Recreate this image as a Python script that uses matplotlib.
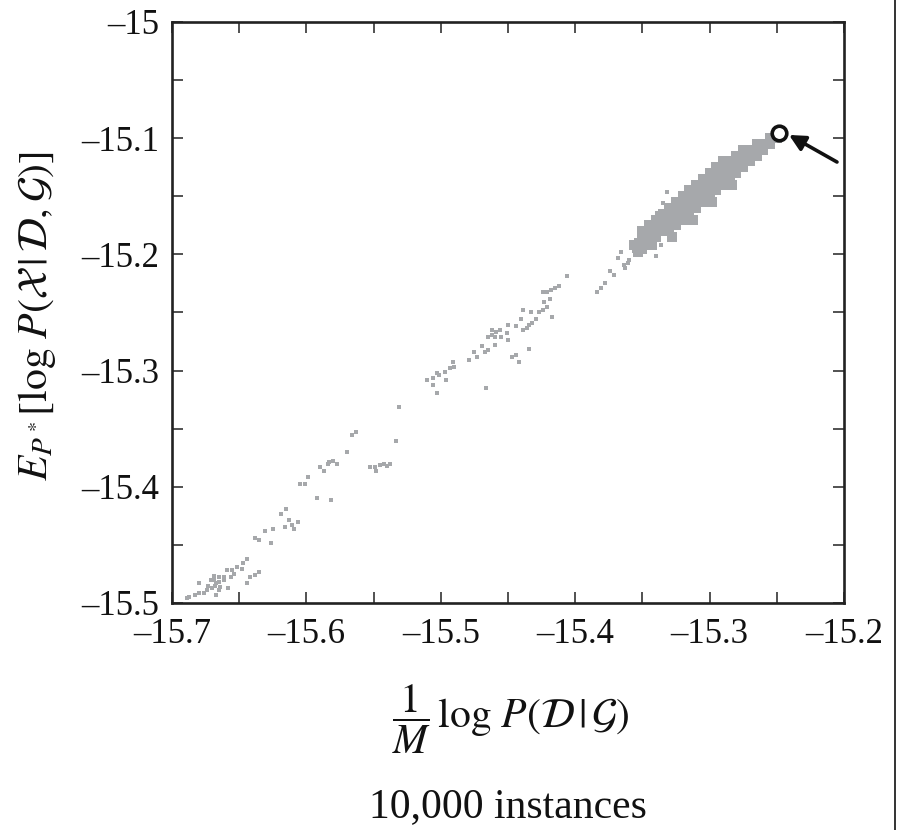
import matplotlib
matplotlib.use('Agg')
import matplotlib.pyplot as plt
from matplotlib.ticker import MultipleLocator, FuncFormatter
from matplotlib.lines import Line2D

plt.rcParams['font.family'] = 'serif'
plt.rcParams['font.serif'] = ['Liberation Serif', 'DejaVu Serif']
plt.rcParams['mathtext.fontset'] = 'stix'

# scattered instances along the diagonal (x: 1/M log P(D|G), y: E_P*[log P(X|D,G)])
sparse_x = [-15.605, -15.601, -15.592, -15.582, -15.615, -15.619, -15.613, -15.606, -15.611, -15.609,
            -15.616, -15.625, -15.631, -15.638, -15.635, -15.626, -15.644, -15.647, -15.652, -15.648,
            -15.655, -15.659, -15.661, -15.654, -15.665, -15.669, -15.668, -15.670, -15.674, -15.676,
            -15.680, -15.683, -15.687, -15.689, -15.673, -15.665, -15.658, -15.656, -15.635, -15.638,
            -15.642, -15.644, -15.680, -15.667, -15.661, -15.665, -15.671, -15.669, -15.667, -15.664,
            -15.506, -15.510, -15.506, -15.503, -15.497, -15.496, -15.503, -15.531, -15.563, -15.566,
            -15.570, -15.533, -15.580, -15.583, -15.577, -15.584, -15.590, -15.587, -15.599, -15.553,
            -15.549, -15.545, -15.542, -15.538, -15.540, -15.548,
            -15.406, -15.412, -15.415, -15.418, -15.421, -15.424, -15.423, -15.419, -15.384, -15.421,
            -15.424, -15.427, -15.417, -15.439, -15.433, -15.429, -15.432, -15.434, -15.436, -15.439,
            -15.440, -15.444, -15.450, -15.456, -15.459, -15.462, -15.462, -15.465, -15.460, -15.455,
            -15.451, -15.450, -15.460, -15.469, -15.465, -15.467, -15.475, -15.473, -15.479, -15.434,
            -15.444, -15.447, -15.442, -15.491, -15.490, -15.493, -15.501, -15.466,
            -15.378, -15.371, -15.361, -15.366, -15.360, -15.358, -15.355, -15.351, -15.347, -15.345,
            -15.340, -15.336, -15.332, -15.335, -15.339, -15.374, -15.368, -15.363, -15.356, -15.352,
            -15.381, -15.364]
sparse_y = [-15.398, -15.398, -15.410, -15.411, -15.419, -15.423, -15.429, -15.430, -15.433, -15.436,
            -15.435, -15.436, -15.438, -15.444, -15.446, -15.448, -15.462, -15.466, -15.469, -15.471,
            -15.472, -15.472, -15.478, -15.475, -15.478, -15.480, -15.485, -15.487, -15.489, -15.491,
            -15.491, -15.493, -15.495, -15.496, -15.485, -15.489, -15.487, -15.478, -15.473, -15.476,
            -15.478, -15.483, -15.483, -15.493, -15.480, -15.482, -15.480, -15.477, -15.483, -15.486,
            -15.306, -15.308, -15.312, -15.302, -15.301, -15.308, -15.319, -15.331, -15.353, -15.355,
            -15.370, -15.361, -15.378, -15.379, -15.380, -15.380, -15.383, -15.386, -15.392, -15.383,
            -15.383, -15.381, -15.380, -15.380, -15.382, -15.386,
            -15.219, -15.227, -15.229, -15.231, -15.232, -15.232, -15.241, -15.238, -15.232, -15.245,
            -15.248, -15.250, -15.254, -15.248, -15.250, -15.256, -15.259, -15.261, -15.263, -15.265,
            -15.256, -15.262, -15.261, -15.265, -15.267, -15.265, -15.269, -15.271, -15.271, -15.271,
            -15.268, -15.274, -15.278, -15.279, -15.282, -15.284, -15.284, -15.288, -15.291, -15.281,
            -15.287, -15.288, -15.293, -15.293, -15.297, -15.298, -15.304, -15.315,
            -15.225, -15.218, -15.207, -15.198, -15.205, -15.194, -15.188, -15.179, -15.182, -15.172,
            -15.201, -15.192, -15.146, -15.156, -15.164, -15.214, -15.203, -15.212, -15.197, -15.190,
            -15.229, -15.209]

# dense cloud of instances near the top right
dense_x = [-15.350, -15.350, -15.350, -15.350,
           -15.345, -15.345, -15.345, -15.345,
           -15.340, -15.340, -15.340, -15.340,
           -15.335, -15.335, -15.335, -15.335,
           -15.330, -15.330, -15.330, -15.330, -15.330,
           -15.325, -15.325, -15.325, -15.325, -15.325,
           -15.320, -15.320, -15.320, -15.320, -15.320,
           -15.315, -15.315, -15.315, -15.315, -15.315,
           -15.310, -15.310, -15.310, -15.310, -15.310,
           -15.305, -15.305, -15.305, -15.305, -15.305,
           -15.300, -15.300, -15.300, -15.300, -15.300,
           -15.295, -15.295, -15.295, -15.295, -15.295,
           -15.290, -15.290, -15.290, -15.290, -15.290,
           -15.285, -15.285, -15.285, -15.285,
           -15.280, -15.280, -15.280, -15.280,
           -15.275, -15.275, -15.275, -15.275,
           -15.270, -15.270, -15.270,
           -15.265, -15.265, -15.265,
           -15.260, -15.260,
           -15.255, -15.255,
           -15.250, -15.250,
           -15.356, -15.353, -15.343, -15.328, -15.312, -15.298, -15.283]
dense_y = [-15.180, -15.185, -15.190, -15.195,
           -15.175, -15.180, -15.185, -15.190,
           -15.170, -15.175, -15.180, -15.185,
           -15.165, -15.170, -15.175, -15.180,
           -15.160, -15.165, -15.170, -15.175, -15.180,
           -15.155, -15.160, -15.165, -15.170, -15.175,
           -15.150, -15.155, -15.160, -15.165, -15.170,
           -15.145, -15.150, -15.155, -15.160, -15.165,
           -15.140, -15.145, -15.150, -15.155, -15.160,
           -15.135, -15.140, -15.145, -15.150, -15.155,
           -15.130, -15.135, -15.140, -15.145, -15.150,
           -15.125, -15.130, -15.135, -15.140, -15.145,
           -15.120, -15.125, -15.130, -15.135, -15.140,
           -15.120, -15.125, -15.130, -15.135,
           -15.115, -15.120, -15.125, -15.130,
           -15.110, -15.115, -15.120, -15.125,
           -15.110, -15.115, -15.120,
           -15.105, -15.110, -15.115,
           -15.105, -15.110,
           -15.100, -15.105,
           -15.097, -15.100,
           -15.192, -15.198, -15.192, -15.185, -15.170, -15.155, -15.140]

# the true network, marked with a circle and an arrow
true_x, true_y = -15.2483, -15.0955
arrow_from = (-15.2052, -15.1205)
arrow_to = (-15.2409, -15.0972)

gray = '#a6a8ab'


def dash(v, pos):
    s = '%d' % v if abs(v - round(v)) < 1e-9 else '%.1f' % v
    return s.replace('-', '\u2013')


fig = plt.figure(figsize=(9.01, 8.30), dpi=100)
ax = fig.add_axes([0.1909, 0.2735, 0.7458, 0.700])

ax.scatter(dense_x, dense_y, s=42, marker='s', color=gray, linewidths=0, zorder=2)
ax.scatter(sparse_x, sparse_y, s=10, marker='s', color=gray, linewidths=0, zorder=2)
ax.plot([true_x], [true_y], 'o', ms=10.5, mfc='white', mec='#111111', mew=2.6, zorder=4)
ax.annotate('', xy=arrow_to, xytext=arrow_from,
            arrowprops=dict(arrowstyle='-|>', lw=2.6, color='#111111',
                            mutation_scale=24, shrinkA=0, shrinkB=0), zorder=4)

ax.set_xlim(-15.7, -15.2)
ax.set_ylim(-15.5, -15.0)
for a in (ax.xaxis, ax.yaxis):
    a.set_major_locator(MultipleLocator(0.1))
    a.set_minor_locator(MultipleLocator(0.05))
    a.set_major_formatter(FuncFormatter(dash))
ax.tick_params(which='both', direction='in', top=True, right=True, length=8, width=1.1,
               color='#222222', labelsize=25, labelcolor='#111111')
ax.tick_params(axis='x', pad=11)
ax.tick_params(axis='y', pad=9)
for sp in ax.spines.values():
    sp.set_linewidth(1.9)
    sp.set_color('#222222')

ax.set_ylabel(r'$E_{P^*}[\log\,P(\mathcal{X}\,|\,\mathcal{D},\mathcal{G})]$', fontsize=30, color='#111111')
ax.yaxis.set_label_coords(-0.17, 0.494)
fig.text(0.567, 0.133, r'$\dfrac{1}{M}\,\log\,P(\mathcal{D}\,|\,\mathcal{G})$', fontsize=30,
         ha='center', va='center', color='#111111')
fig.text(0.564, 0.028, '10,000 instances', fontsize=30, ha='center', va='center', color='#111111')

# panel border on the right
fig.add_artist(Line2D([895 / 901, 895 / 901], [0, 1], transform=fig.transFigure,
                      color='#111111', lw=1.2))

plt.savefig('out.png', dpi=100)
